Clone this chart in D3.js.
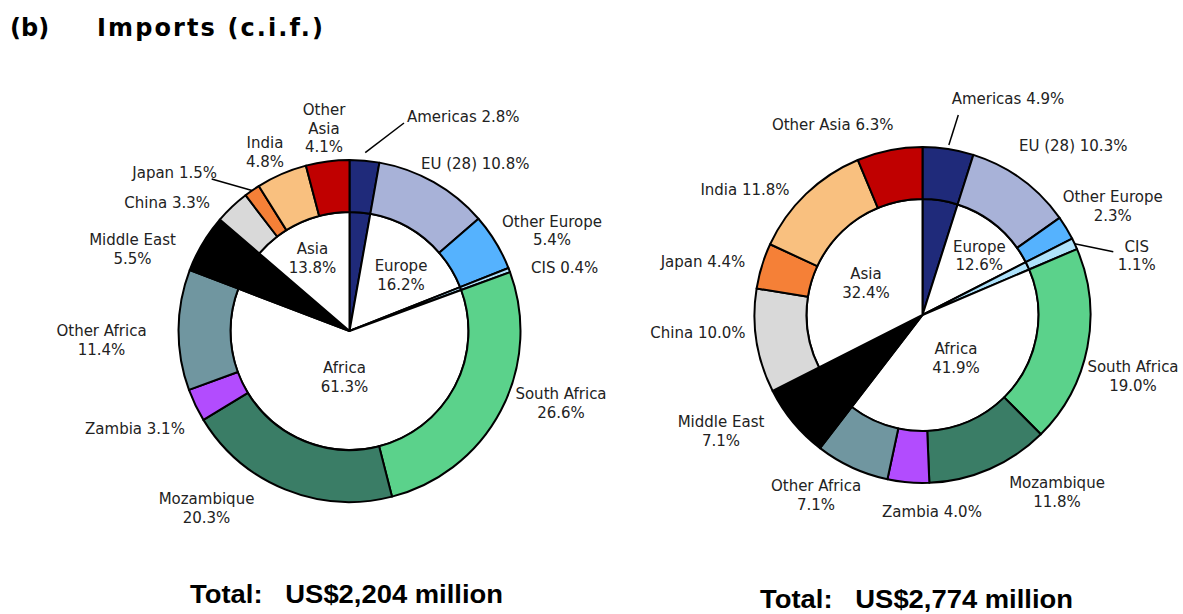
<!DOCTYPE html>
<html>
<head>
  <meta charset="UTF-8">
  <style>
    body {
      margin: 0;
      padding: 0;
      background-color: #fff;
    }
    svg text {
      font-family: "DejaVu Sans", Verdana, sans-serif;
      font-size: 15px;
      fill: #222;
    }
    .title {
      font-weight: bold;
      font-size: 24px;
      fill: #000;
    }
    .total {
      font-family: "Liberation Sans", Arial, sans-serif;
      font-weight: bold;
      font-size: 25px;
      fill: #000;
      white-space: pre;
    }
  </style>
</head>
<body>
<svg id="chart"></svg>
<script src="https://d3js.org/d3.v7.min.js"></script>
<script>
// data (shares in %)
const categories = ["Americas", "EU (28)", "Other Europe", "CIS", "South Africa", "Mozambique",
  "Zambia", "Other Africa", "Middle East", "China", "Japan", "India", "Other Asia"];
const regionOf = ["Americas", "Europe", "Europe", "CIS", "Africa", "Africa",
  "Africa", "Africa", "Middle East", "Asia", "Asia", "Asia", "Asia"];
const sharesLeft = [2.8, 10.8, 5.4, 0.4, 26.6, 20.3, 3.1, 11.4, 5.5, 3.3, 1.5, 4.8, 4.1];
const sharesRight = [4.9, 10.3, 2.3, 1.1, 19.0, 11.8, 4.0, 7.1, 7.1, 10.0, 4.4, 11.8, 6.3];
const regionNames = ["Europe", "Africa", "Asia"];
const regionSharesLeft = [16.2, 61.3, 13.8];
const regionSharesRight = [12.6, 41.9, 32.4];
const totals = ["US$2,204 million", "US$2,774 million"];

const colours = ["#1f2a7a", "#a8b2d8", "#55b2fe", "#aee2fb", "#5bd28b", "#3a7d66",
  "#b24cfe", "#7096a0", "#000000", "#d9d9d9", "#f58037", "#f9c07f", "#c00000"];

let width = 1183, height = 614;
let svg = d3.select("#chart").attr("width", width).attr("height", height);

// title
svg.append("text").attr("class", "title").attr("x", 10).attr("y", 36).text("(b)");
svg.append("text").attr("class", "title").attr("x", 97).attr("y", 36)
  .attr("textLength", 226).attr("lengthAdjust", "spacing").text("Imports (c.i.f.)");

// label layout: [dx, dy, anchor, lineMode] relative to pie centre
// lineMode 0 = one line, 1 = name / value, 2 = every word on its own line
const layoutLeft = {
  cx: 349.5, cy: 331, R: 171, r: 119,
  labels: [
    [57.5, -214, "start", 0], [71.5, -167, "start", 0], [202.5, -109.5, "middle", 1],
    [181.5, -63, "start", 0], [211.5, 63, "middle", 1], [-143, 168, "middle", 1],
    [-214.5, 97.5, "middle", 0], [-248, 0, "middle", 1], [-217, -91, "middle", 1],
    [-139.5, -128.5, "end", 0], [-132.5, -158, "end", 0], [-84.5, -188, "middle", 1],
    [-25.5, -221, "middle", 2]
  ],
  regions: [[51.5, -65], [-5, 37.3], [-37, -82]],
  leaders: [[0, 8, 54.5, -208], [10, 0, -137.8, -152]],
  total: [190, 603]
};
const layoutRight = {
  cx: 922.5, cy: 315, R: 168, r: 116,
  labels: [
    [29.2, -216, "start", 0], [96.5, -169, "start", 0], [190.2, -117.7, "middle", 1],
    [214.2, -68.3, "middle", 1], [210.5, 52, "middle", 1], [134.5, 168, "middle", 1],
    [9.5, 197, "middle", 0], [-106.5, 171, "middle", 1], [-201.5, 107, "middle", 1],
    [-224.5, 18.3, "middle", 0], [-219.5, -53.3, "middle", 0], [-177.5, -125, "middle", 0],
    [-89.8, -190, "middle", 0]
  ],
  regions: [[56.8, -68.3], [33.5, 34.3], [-56.5, -40.7]],
  leaders: [[0, 4, 35.8, -200], [3, 0, 190.8, -63.3]],
  total: [760, 608]
};

const lineH = 18.5;

function drawDonut(shares, regionShares, lay, total) {
  let g = svg.append("g").attr("transform", `translate(${lay.cx},${lay.cy})`);
  let pie = d3.pie().sort(null).value(d => d.v);

  // inner pie: consecutive categories grouped by region
  let groups = [];
  shares.forEach((v, i) => {
    let last = groups[groups.length - 1];
    if (last && last.region == regionOf[i]) last.v += v;
    else groups.push({ region: regionOf[i], v: v, idx: i });
  });
  let innerArc = d3.arc().innerRadius(0).outerRadius(lay.r);
  g.selectAll("path.inner")
    .data(pie(groups))
    .enter()
    .append("path")
    .attr("class", "inner")
    .attr("d", innerArc)
    .attr("fill", d => regionNames.includes(d.data.region) ? "#fff" : colours[d.data.idx])
    .attr("stroke", "#000")
    .attr("stroke-width", 2)
    .attr("stroke-linejoin", "round");

  // outer ring: one segment per category
  let items = shares.map((v, i) => ({ name: categories[i], v: v, idx: i }));
  let arcs = pie(items);
  let outerArc = d3.arc().innerRadius(lay.r).outerRadius(lay.R);
  g.selectAll("path.outer")
    .data(arcs)
    .enter()
    .append("path")
    .attr("class", "outer")
    .attr("d", outerArc)
    .attr("fill", d => colours[d.data.idx])
    .attr("stroke", "#000")
    .attr("stroke-width", 2)
    .attr("stroke-linejoin", "round");

  // category labels
  arcs.forEach((a, i) => {
    let [dx, dy, anchor, mode] = lay.labels[i];
    let valueText = a.data.v.toFixed(1) + "%";
    let lines;
    if (mode == 0) lines = [a.data.name + " " + valueText];
    else if (mode == 1) lines = [a.data.name, valueText];
    else lines = a.data.name.split(" ").concat([valueText]);
    let t = g.append("text")
      .attr("text-anchor", anchor)
      .attr("dominant-baseline", "central");
    lines.forEach((l, k) => {
      t.append("tspan").attr("x", dx).attr("y", dy + k * lineH).text(l);
    });
  });

  // leader lines: [category index, extra radius, end dx, end dy]
  lay.leaders.forEach(ld => {
    let a = arcs[ld[0]];
    let mid = (a.startAngle + a.endAngle) / 2;
    let rr = lay.R + ld[1];
    g.append("line")
      .attr("x1", rr * Math.sin(mid))
      .attr("y1", -rr * Math.cos(mid))
      .attr("x2", ld[2])
      .attr("y2", ld[3])
      .attr("stroke", "#000")
      .attr("stroke-width", 1.5);
  });

  // region labels inside the white slices
  regionNames.forEach((name, k) => {
    let [dx, dy] = lay.regions[k];
    let t = g.append("text")
      .attr("text-anchor", "middle")
      .attr("dominant-baseline", "central");
    t.append("tspan").attr("x", dx).attr("y", dy).text(name);
    t.append("tspan").attr("x", dx).attr("y", dy + lineH).text(regionShares[k].toFixed(1) + "%");
  });

  svg.append("text")
    .attr("class", "total")
    .attr("x", lay.total[0])
    .attr("y", lay.total[1])
    .attr("textLength", 313)
    .attr("lengthAdjust", "spacingAndGlyphs")
    .text("Total:   " + total);
}

drawDonut(sharesLeft, regionSharesLeft, layoutLeft, totals[0]);
drawDonut(sharesRight, regionSharesRight, layoutRight, totals[1]);
</script>
</body>
</html>
